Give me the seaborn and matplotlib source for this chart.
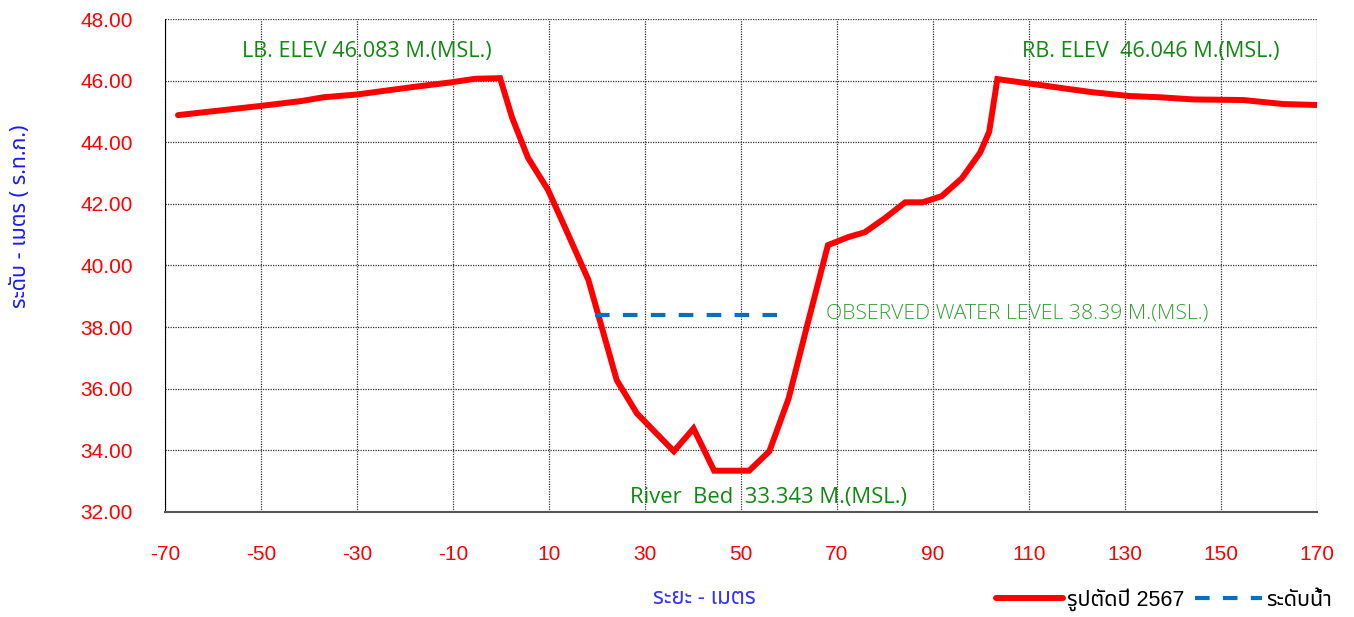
import numpy as np
import pandas as pd
import seaborn as sns
import matplotlib.pyplot as plt
from matplotlib.lines import Line2D

# Cross-section survey points (distance in m, elevation in m MSL)
distance = [-67.3, -62.7, -50.0, -41.5, -37.0, -30.0, -19.0, -10.6, -5.4, -0.2,
            2.3, 5.6, 9.8, 14.0, 18.2, 24.1, 28.3, 36.0, 40.1, 44.4,
            51.7, 55.9, 59.9, 63.7, 68.1, 72.3, 75.8, 80.0, 84.2, 87.8,
            91.8, 96.0, 99.8, 101.7, 103.4, 109.9, 117.2, 123.4, 131.0, 137.3,
            144.2, 154.6, 163.0, 169.9]
elevation = [44.88, 44.96, 45.18, 45.34, 45.46, 45.55, 45.78, 45.94, 46.06, 46.08,
             44.80, 43.50, 42.45, 41.00, 39.53, 36.28, 35.20, 33.97, 34.71, 33.34,
             33.34, 33.97, 35.68, 38.01, 40.66, 40.92, 41.08, 41.54, 42.05, 42.05,
             42.25, 42.83, 43.66, 44.34, 46.05, 45.91, 45.75, 45.62, 45.50, 45.46,
             45.39, 45.37, 45.24, 45.21]

water_x = [19.6, 57.7]
water_y = [38.39, 38.39]

x_ticks = list(range(-70, 171, 20))
y_ticks = list(range(32, 49, 2))

section = pd.DataFrame({'distance': distance, 'elevation': elevation})
water = pd.DataFrame({'distance': water_x, 'elevation': water_y})

sns.set_style('white')
thai = ['Noto Sans Thai', 'Loma', 'Tlwg Typo', 'Garuda', 'DejaVu Sans', 'Noto Sans']
plt.rcParams['font.family'] = ['Liberation Sans'] + thai
plt.rcParams['axes.unicode_minus'] = False

fig = plt.figure(figsize=(13.54, 6.17), dpi=100)
ax = fig.add_axes([0.1219, 0.1702, 0.8508, 0.799])

sns.lineplot(data=section, x='distance', y='elevation', ax=ax, sort=False,
             color='#ff0000', linewidth=4.3, solid_joinstyle='miter')
sns.lineplot(data=water, x='distance', y='elevation', ax=ax, sort=False,
             color='#0070c0', linewidth=3, dashes=False, linestyle=(0, (3.5, 3.2)))

ax.set_xlim(-70, 170)
ax.set_ylim(32, 48)
ax.set_xticks(x_ticks)
ax.set_yticks(y_ticks)
ax.set_yticklabels([f'{v:.2f}' for v in y_ticks])
ax.tick_params(axis='both', colors='black', labelcolor='#ff0000', labelsize=15,
               length=9, width=1, direction='out')
ax.tick_params(axis='x', pad=15)
ax.tick_params(axis='y', pad=14)

ax.grid(True, color='#333333', linestyle=(0, (1, 1)), linewidth=0.9)
for side in ['top', 'right']:
    ax.spines[side].set_visible(False)
ax.spines['left'].set_color('black')
ax.spines['bottom'].set_color('#555555')
ax.spines['bottom'].set_linewidth(1.5)

ax.set_xlabel('ระยะ - เมตร', color='#3333ff', fontsize=16,
              family=['Noto Sans'] + thai)
ax.xaxis.set_label_coords(0.468, -0.155)
ax.set_ylabel('ระดับ - เมตร ( ร.ท.ก.)', color='#1a1aff', fontsize=15.5,
              fontweight='bold', family=['Noto Sans'] + thai)
ax.yaxis.set_label_coords(-0.116, 0.60)

note = ['Open Sans', 'Noto Sans']
ax.text(-54, 46.93, 'LB. ELEV 46.083 M.(MSL.)', color='#118811', fontsize=15.6,
        va='center', family=note)
ax.text(108.5, 46.93, 'RB. ELEV  46.046 M.(MSL.)', color='#118811', fontsize=15.6,
        va='center', family=note)
ax.text(67.7, 38.45, 'OBSERVED WATER LEVEL 38.39 M.(MSL.)', color='#33a033',
        fontsize=15.3, va='center', family=note, fontweight='light')
ax.text(26.9, 32.48, 'River  Bed  33.343 M.(MSL.)', color='#118811', fontsize=15.8,
        va='center', family=note)

handles = [Line2D([], [], color='#ff0000', linewidth=4.3),
           Line2D([], [], color='#0070c0', linewidth=3, linestyle=(0, (3.5, 3.2)))]
fig.legend(handles, ['รูปตัดปี 2567', 'ระดับน้ำ'], loc='lower right',
           bbox_to_anchor=(0.998, -0.022), ncol=2, frameon=False,
           handlelength=3.1, handletextpad=0.2, columnspacing=0.5,
           labelcolor='black',
           prop={'family': ['Liberation Sans'] + thai, 'size': 15.5})

fig.savefig('out.png', dpi=100)
